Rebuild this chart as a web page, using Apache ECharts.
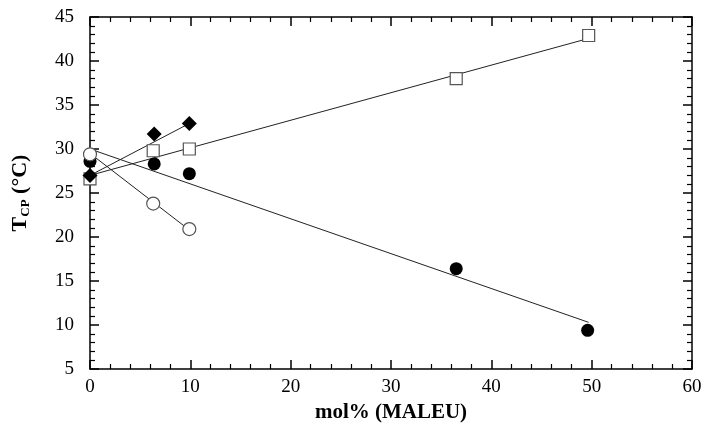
<!DOCTYPE html>
<html>
<head>
<meta charset="utf-8">
<script src="https://cdn.jsdelivr.net/npm/echarts@6/dist/echarts.min.js"></script>
<style>
  html, body { margin: 0; padding: 0; background: #fff; }
  #chart { width: 704px; height: 426px; }
</style>
</head>
<body>
<div id="chart"></div>
<script>
// measured points: [mol%, T_CP]
const openSquares = [[0, 26.6], [6.3, 29.8], [9.9, 30.0], [36.5, 38.0], [49.7, 42.9]]
const filledDiamonds = [[0, 27.0], [6.4, 31.7], [9.9, 32.9]]
const filledCircles = [[0, 28.6], [6.4, 28.3], [9.9, 27.2], [36.5, 16.4], [49.6, 9.4]]
const openCircles = [[0, 29.4], [6.3, 23.8], [9.9, 20.9]]

// fitted lines drawn through the data
const squareFit = [[0, 27.0], [49.8, 42.6]]
const diamondFit = [[0, 27.0], [9.9, 32.9]]
const circleFit = [[0, 30.0], [49.7, 10.3]]
const openCircleFit = [[0, 29.5], [9.9, 20.8]]

const xTicks = { min: 0, max: 60, interval: 10 }
const yTicks = { min: 5, max: 45, interval: 5 }

const font = 'Liberation Serif'

function axisBase(showLabels, margin) {
  return {
    axisLine: { onZero: false, lineStyle: { color: '#000', width: 1.5 } },
    axisTick: { inside: true, length: 9, lineStyle: { color: '#000', width: 1.5 } },
    minorTick: { show: true, splitNumber: 5, length: 5, lineStyle: { color: '#000', width: 1.2 } },
    splitLine: { show: false },
    axisLabel: { show: showLabels, margin: margin, color: '#000', fontFamily: font, fontSize: 19 }
  }
}

function lineSeries(data) {
  return {
    type: 'line',
    data: data,
    symbol: 'none',
    lineStyle: { color: '#222', width: 1 },
    z: 1,
    silent: true
  }
}

function markSeries(data, symbol, size, filled) {
  return {
    type: 'scatter',
    data: data,
    symbol: symbol,
    symbolSize: size,
    itemStyle: filled
      ? { color: '#000', opacity: 1 }
      : { color: '#fff', borderColor: '#555', borderWidth: 1.2, opacity: 1 },
    z: 3
  }
}

const chart = echarts.init(document.getElementById('chart'))
chart.setOption({
  animation: false,
  backgroundColor: '#fff',
  grid: { left: 90, right: 12, top: 17, bottom: 57, outerBoundsMode: 'none', containLabel: false },
  xAxis: [
    Object.assign(axisBase(true, 9), {
      type: 'value', position: 'bottom', ...xTicks,
      name: 'mol% (MALEU)', nameLocation: 'middle', nameGap: 31,
      nameTextStyle: { color: '#000', fontFamily: font, fontSize: 21, fontWeight: 'bold' }
    }),
    Object.assign(axisBase(false, 9), { type: 'value', position: 'top', ...xTicks })
  ],
  yAxis: [
    Object.assign(axisBase(true, 16), {
      type: 'value', position: 'left', ...yTicks,
      name: 'T{sub|CP} (°C)', nameLocation: 'middle', nameGap: 58,
      nameTextStyle: {
        color: '#000', fontFamily: font, fontSize: 22, fontWeight: 'bold',
        rich: {
          sub: { fontFamily: font, fontSize: 13, fontWeight: 'bold', color: '#000', padding: [10, 0, 0, 0] }
        }
      }
    }),
    Object.assign(axisBase(false, 16), { type: 'value', position: 'right', ...yTicks })
  ],
  series: [
    lineSeries(squareFit),
    lineSeries(diamondFit),
    lineSeries(circleFit),
    lineSeries(openCircleFit),
    markSeries(openSquares, 'rect', 12, false),
    markSeries(filledDiamonds, 'diamond', 15, true),
    markSeries(filledCircles, 'circle', 13, true),
    markSeries(openCircles, 'circle', 13, false)
  ]
})
</script>
</body>
</html>
